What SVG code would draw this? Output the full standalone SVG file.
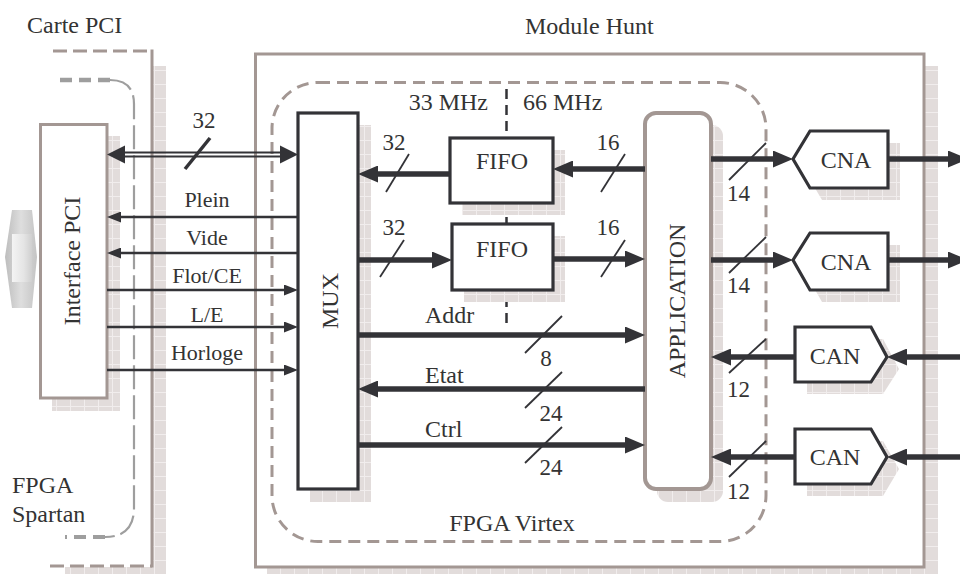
<svg xmlns="http://www.w3.org/2000/svg" width="960" height="574" viewBox="0 0 960 574">
<style>
text{font-family:"Liberation Serif","Times New Roman",serif;fill:#333;}
.t24{font-size:24px;}
.t22{font-size:22px;}
.t23{font-size:23px;}
.mid{text-anchor:middle;}
.end{text-anchor:end;}
.shadow{fill:url(#grid);}
.gbox{fill:#fff;stroke:#a39793;stroke-width:3;}
.dbox{fill:#fff;stroke:#333337;stroke-width:3.2;}
.thick{stroke:#333337;stroke-width:5.5;fill:none;marker-end:url(#ahT);}
.thin{stroke:#333337;stroke-width:2.5;fill:none;marker-end:url(#ahS);}
.slash{stroke:#333337;stroke-width:1.8;}
.gdash{fill:none;stroke:#a39793;stroke-width:3;stroke-dasharray:12 7;}
</style>
<defs>
<pattern id="grid" width="14" height="14" patternUnits="userSpaceOnUse">
<rect width="14" height="14" fill="#e2dcdb"/>
<path d="M0 0.5H14M0.5 0V14" stroke="#f1eded" stroke-width="1"/>
</pattern>
<marker id="ahT" markerUnits="userSpaceOnUse" markerWidth="20" markerHeight="17" viewBox="0 0 20 17" refX="10" refY="8.5" orient="auto">
<path d="M0,0 L20,8.5 L0,17 z" fill="#333337"/>
</marker>
<marker id="ahS" markerUnits="userSpaceOnUse" markerWidth="14" markerHeight="11" viewBox="0 0 14 11" refX="8" refY="5.5" orient="auto">
<path d="M0,0 L14,5.5 L0,11 z" fill="#333337"/>
</marker>
<linearGradient id="gArrow" x1="0" y1="0" x2="1" y2="0">
<stop offset="0" stop-color="#bdbdbd"/>
<stop offset="0.5" stop-color="#dedede"/>
<stop offset="1" stop-color="#c4c4c4"/>
</linearGradient>
<linearGradient id="gArrowIn" x1="0" y1="0" x2="1" y2="0">
<stop offset="0" stop-color="#f4f4f4"/>
<stop offset="0.6" stop-color="#e4e4e4"/>
<stop offset="1" stop-color="#cfcfcf"/>
</linearGradient>
</defs>

<rect width="960" height="574" fill="#fff"/>

<g id="pci-bus">
<polygon points="12,210 32,210 37,257 32,308 12,308 5,257" fill="url(#gArrow)"/>
<rect x="12" y="234" width="20" height="48" fill="url(#gArrowIn)"/>
</g>

<g id="carte-pci">
<rect x="153" y="66" width="13" height="508" class="shadow"/>
<rect x="65" y="567" width="101" height="7" class="shadow"/>
<path d="M53,51 H152" fill="none" stroke="#a39793" stroke-width="3" stroke-dasharray="14 6"/>
<path d="M50,566 H152" fill="none" stroke="#a39793" stroke-width="3" stroke-dasharray="14 6"/>
<path d="M152,49.5 V567.5" stroke="#a39793" stroke-width="3"/>
<text x="27" y="33" class="t24">Carte PCI</text>
</g>

<g id="fpga-spartan">
<path d="M60,80 H110" fill="none" stroke="#9e9e9e" stroke-width="4.5" stroke-dasharray="12 7"/>
<path d="M110,80 Q134,80 134,104 V508 Q134,537 105,537" fill="none" stroke="#9e9e9e" stroke-width="2.2" stroke-dasharray="24 6"/>
<path d="M105,537 H65" fill="none" stroke="#9e9e9e" stroke-width="4" stroke-dasharray="12 7"/>
<text x="12" y="493" class="t24">FPGA</text>
<text x="12" y="522" class="t24">Spartan</text>
</g>

<g id="interface-pci">
<rect x="52" y="136" width="68" height="275" class="shadow"/>
<rect x="40.5" y="124.5" width="66.5" height="273.5" class="gbox"/>
<text transform="translate(80,261) rotate(-90)" class="t24 mid">Interface PCI</text>
</g>

<g id="module-hunt">
<rect x="267" y="66" width="671" height="508" class="shadow"/>
<rect x="255.5" y="54" width="668.5" height="513" class="gbox"/>
<text x="525" y="34" class="t24">Module Hunt</text>
</g>

<g id="fpga-virtex">
<rect x="272" y="82.5" width="494" height="459" rx="46" ry="46" class="gdash"/>
<text x="512" y="531" class="t24 mid">FPGA Virtex</text>
<text x="488" y="110" class="t24 end">33 MHz</text>
<text x="523" y="110" class="t24">66 MHz</text>
</g>

<g id="clock-boundary">
<path d="M506.5,89 V323" stroke="#333337" stroke-width="2.5" stroke-dasharray="10 6"/>
</g>

<g id="mux">
<rect x="310" y="125" width="61" height="377" class="shadow"/>
<rect x="298" y="113" width="60" height="376" class="dbox"/>
<text transform="translate(338,301) rotate(-90)" class="t24 mid">MUX</text>
</g>

<g id="fifo1">
<rect x="462" y="150" width="103" height="65" class="shadow"/>
<rect x="450" y="138" width="103" height="65" class="dbox"/>
<text x="502" y="169" class="t24 mid">FIFO</text>
</g>

<g id="fifo2">
<rect x="464" y="236" width="101" height="66" class="shadow"/>
<rect x="452" y="224" width="101" height="66" class="dbox"/>
<text x="502" y="257" class="t24 mid">FIFO</text>
</g>

<g id="application">
<rect x="657" y="125" width="66" height="377" rx="11" ry="11" class="shadow"/>
<rect x="645" y="113" width="66" height="376" rx="11" ry="11" fill="#fff" stroke="#a39793" stroke-width="4"/>
<text transform="translate(685,301) rotate(-90)" class="t24 mid">APPLICATION</text>
</g>

<g id="cna1">
<polygon points="805,171 822,143 900,143 900,200 822,200" class="shadow"/>
<polygon points="793,159 810,131 888,131 888,188 810,188" class="dbox"/>
<text x="846" y="168" class="t24 mid">CNA</text>
</g>

<g id="cna2">
<polygon points="805,272 822,245 900,245 900,302 822,302" class="shadow"/>
<polygon points="793,260 810,233 888,233 888,290 810,290" class="dbox"/>
<text x="846" y="270" class="t24 mid">CNA</text>
</g>

<g id="can1">
<polygon points="807,339 883,339 899,369 883,394 807,394" class="shadow"/>
<polygon points="795,327 871,327 887,357 871,382 795,382" class="dbox"/>
<text x="835" y="364" class="t24 mid">CAN</text>
</g>

<g id="can2">
<polygon points="807,441 883,441 899,469 883,496 807,496" class="shadow"/>
<polygon points="795,429 871,429 887,457 871,484 795,484" class="dbox"/>
<text x="835" y="465" class="t24 mid">CAN</text>
</g>

<g id="connectors">
<!-- PCI bus 32 -->
<path d="M120,152.5 H285 M120,156.5 H285" stroke="#333337" stroke-width="1.8"/>
<polygon points="107,154.5 125,145.5 125,163.5" fill="#333337"/>
<polygon points="298,154.5 280,145.5 280,163.5" fill="#333337"/>
<line x1="185" y1="169" x2="210" y2="138" stroke="#333337" stroke-width="3.5"/>
<text x="204" y="128" class="t23 mid">32</text>

<path d="M298,217 H113" class="thin"/>
<text x="207" y="207" class="t22 mid">Plein</text>
<path d="M298,253 H113" class="thin"/>
<text x="207" y="245" class="t22 mid">Vide</text>
<path d="M107,290 H292" class="thin"/>
<text x="207" y="283" class="t22 mid">Flot/CE</text>
<path d="M107,327 H292" class="thin"/>
<text x="207" y="322" class="t22 mid">L/E</text>
<path d="M107,370 H292" class="thin"/>
<text x="207" y="360" class="t22 mid">Horloge</text>

<path d="M450,174 H368" class="thick"/>
<line x1="386" y1="192" x2="409" y2="154" class="slash"/>
<text x="394" y="150" class="t23 mid">32</text>
<path d="M645,169 H563" class="thick"/>
<line x1="601" y1="192" x2="625" y2="154" class="slash"/>
<text x="608" y="150" class="t23 mid">16</text>

<path d="M358,260 H442" class="thick"/>
<line x1="380" y1="277" x2="404" y2="240" class="slash"/>
<text x="394" y="235" class="t23 mid">32</text>
<path d="M553,259 H635" class="thick"/>
<line x1="601" y1="277" x2="625" y2="240" class="slash"/>
<text x="608" y="235" class="t23 mid">16</text>

<path d="M358,335 H635" class="thick"/>
<line x1="525" y1="353" x2="562" y2="316" class="slash"/>
<text x="425" y="323" class="t24">Addr</text>
<text x="546" y="366" class="t23 mid">8</text>
<path d="M645,389 H368" class="thick"/>
<line x1="525" y1="408" x2="562" y2="372" class="slash"/>
<text x="425" y="383" class="t24">Etat</text>
<text x="551" y="421" class="t23 mid">24</text>
<path d="M358,445 H635" class="thick"/>
<line x1="525" y1="463" x2="562" y2="427" class="slash"/>
<text x="425" y="437" class="t24">Ctrl</text>
<text x="551" y="475" class="t23 mid">24</text>

<path d="M711,159 H783" class="thick"/>
<line x1="729" y1="180" x2="766" y2="143" class="slash"/>
<text x="727" y="201" class="t23">14</text>
<path d="M711,260 H783" class="thick"/>
<line x1="729" y1="273" x2="766" y2="237" class="slash"/>
<text x="727" y="293" class="t23">14</text>
<path d="M888,159 H958" class="thick"/>
<path d="M888,260 H958" class="thick"/>

<path d="M960,357 H897" class="thick"/>
<path d="M795,357 H721" class="thick"/>
<line x1="729" y1="373" x2="766" y2="339" class="slash"/>
<text x="727" y="397" class="t23">12</text>
<path d="M960,457 H897" class="thick"/>
<path d="M795,457 H721" class="thick"/>
<line x1="729" y1="477" x2="766" y2="441" class="slash"/>
<text x="727" y="499" class="t23">12</text>
</g>
</svg>
